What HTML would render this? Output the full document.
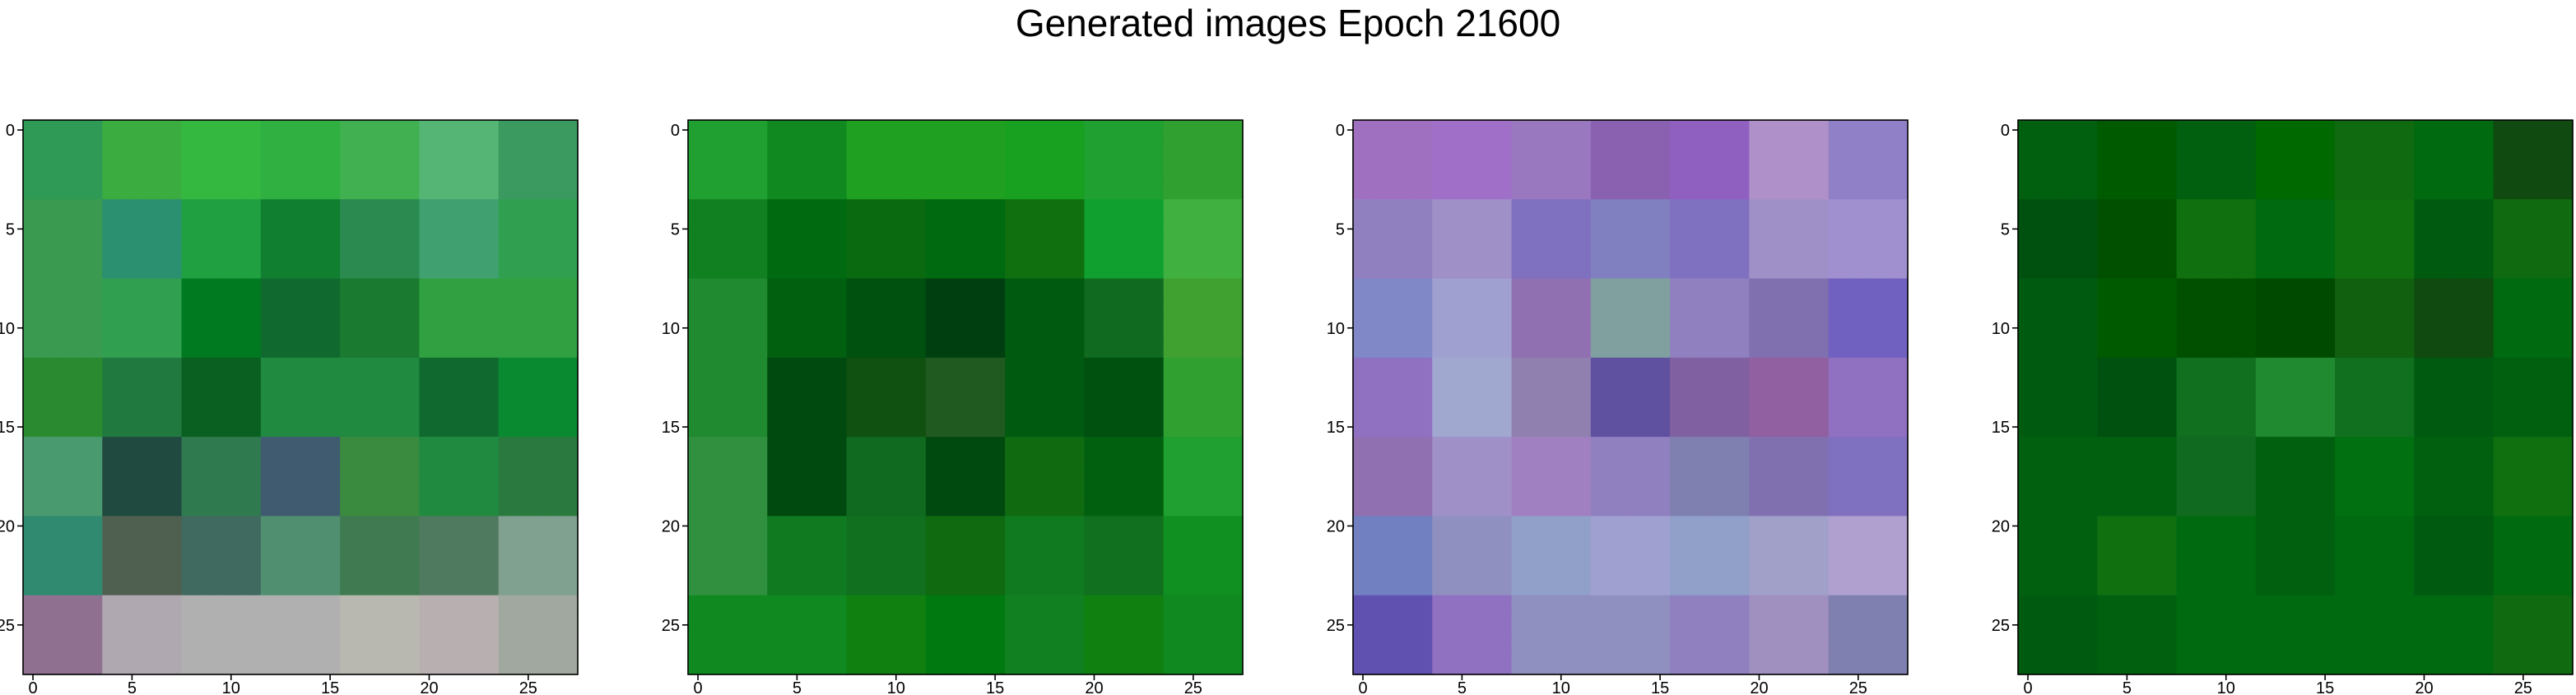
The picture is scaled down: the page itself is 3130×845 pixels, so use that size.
<!DOCTYPE html>
<html><head><meta charset="utf-8"><style>
html,body{margin:0;padding:0;background:#fff;width:3130px;height:845px;overflow:hidden}
svg{display:block}
text{font-family:"Liberation Sans","DejaVu Sans",sans-serif;fill:#000}
</style></head><body>
<svg id="fig" width="3130" height="845" viewBox="0 0 3130 845" xmlns="http://www.w3.org/2000/svg">
<text x="1565" y="44" font-size="46" text-anchor="middle">Generated images Epoch 21600</text>
</svg>
<script>
const panelLefts = [28, 836, 1644, 2452];
const tickValues = [0, 5, 10, 15, 20, 25];
const gridSize = 28;
const blockSize = 4;
const panel1 = [
["#2e9a55","#3aac40","#35b840","#30b040","#40b050","#55b575","#3a9a60"],
["#3a9a50","#2a9070","#20a040","#108030","#2a8a50","#40a070","#30a050"],
["#3a9a50","#30a050","#007a20","#106a30","#1a7a30","#30a040","#30a040"],
["#2a8a30","#207a40","#0a6020","#208a40","#208a40","#106a30","#0a8a30"],
["#4a9a70","#204a40","#307a50","#405a70","#3a8a40","#208a40","#2a7a40"],
["#308a70","#506050","#406a60","#509070","#407a50","#507a60","#80a090"],
["#907090","#b0a8b0","#b0b0b0","#b0b0b0","#b8b8b0","#b8b0b0","#a0a8a0"]];
const panel2 = [
["#20a030","#108a20","#20a020","#20a020","#18a020","#20a030","#30a030"],
["#108020","#006a10","#0a6a10","#006a10","#107010","#10a030","#40b040"],
["#208a30","#006010","#005010","#004010","#005a10","#106a20","#40a030"],
["#208a30","#004a10","#105010","#205a20","#005a10","#005010","#30a030"],
["#309040","#004a10","#106a20","#004a10","#106a10","#006010","#20a030"],
["#309040","#107a20","#107020","#106a10","#107a20","#107020","#109020"],
["#108a20","#108a20","#108010","#007a10","#108020","#108010","#108a20"]];
const panel3 = [
["#a070c0","#a070c8","#9a78c0","#8a60b0","#9060c0","#b090c8","#9080c8"],
["#9080c0","#a090c8","#8070c0","#8080c0","#8070c0","#a090c8","#a090d0"],
["#8088c8","#a0a0d0","#9070b0","#80a0a0","#9080c0","#8070b0","#7060c0"],
["#9070c0","#a0a8d0","#9080b0","#6050a0","#8060a0","#9060a0","#9070c0"],
["#9070b0","#a090c8","#a080c0","#9080c0","#8080b0","#8070b0","#8070c0"],
["#7080c0","#9090c0","#90a0c8","#a0a0d0","#90a0c8","#a0a0c8","#b0a0d0"],
["#6050b0","#9070c0","#9090c0","#9090c0","#9080c0","#a090c0","#8080b0"]];
const panel4 = [
["#006010","#005a00","#006010","#006a00","#106a10","#006a10","#104a10"],
["#005010","#005000","#107010","#006a10","#107010","#005a10","#106a10"],
["#005a10","#005a00","#005000","#004a00","#106010","#104a10","#006a10"],
["#005a10","#005010","#107020","#208a30","#107020","#005a10","#006010"],
["#006010","#006010","#106a20","#006010","#007010","#006010","#107010"],
["#006010","#107010","#006a10","#006010","#006a10","#005a10","#006a10"],
["#005a10","#006010","#006a10","#006a10","#006a10","#006a10","#106a10"]];
const panels = [panel1, panel2, panel3, panel4];

const NS = "http://www.w3.org/2000/svg";
const svg = document.getElementById('fig');
const top0 = 146, size = 674, cell = size / gridSize;
function xPos(p, v) { return panelLefts[p] + v * cell; }
function yPos(v) { return top0 + v * cell; }

panels.forEach((data, p) => {
  const g = document.createElementNS(NS, 'g');
  
  
  svg.appendChild(g);
  for (let r = 0; r < gridSize; r++) {
    for (let c = 0; c < gridSize; c++) {
      const rect = document.createElementNS(NS, 'rect');
      
      
      rect.setAttribute('x', xPos(p, c));
      rect.setAttribute('y', yPos(r));
      rect.setAttribute('width', cell + 0.6);
      rect.setAttribute('height', cell + 0.6);
      rect.setAttribute('fill', data[Math.floor(r / blockSize)][Math.floor(c / blockSize)]);
      g.appendChild(rect);
    }
  }
  const frame = document.createElementNS(NS, 'rect');
  
  
  frame.setAttribute('x', panelLefts[p]);
  frame.setAttribute('y', top0);
  frame.setAttribute('width', size);
  frame.setAttribute('height', size);
  frame.setAttribute('fill', 'none');
  frame.setAttribute('stroke', '#000');
  frame.setAttribute('stroke-width', '1.6');
  g.appendChild(frame);
  tickValues.forEach(t => {
    const cx = xPos(p, t + 0.5);
    const xt = document.createElementNS(NS, 'line');
    
    
    xt.setAttribute('x1', cx); xt.setAttribute('x2', cx);
    xt.setAttribute('y1', top0 + size); xt.setAttribute('y2', top0 + size + 7);
    xt.setAttribute('stroke', '#000'); xt.setAttribute('stroke-width', '1.6');
    g.appendChild(xt);
    const xl = document.createElementNS(NS, 'text');
    
    
    xl.setAttribute('x', cx); xl.setAttribute('y', 843);
    xl.setAttribute('font-size', '20'); xl.setAttribute('text-anchor', 'middle');
    xl.textContent = t;
    g.appendChild(xl);
    const cy = yPos(t + 0.5);
    const yt = document.createElementNS(NS, 'line');
    
    
    yt.setAttribute('x1', panelLefts[p] - 7); yt.setAttribute('x2', panelLefts[p]);
    yt.setAttribute('y1', cy); yt.setAttribute('y2', cy);
    yt.setAttribute('stroke', '#000'); yt.setAttribute('stroke-width', '1.6');
    g.appendChild(yt);
    const yl = document.createElementNS(NS, 'text');
    
    
    yl.setAttribute('x', panelLefts[p] - 10); yl.setAttribute('y', cy + 7);
    yl.setAttribute('font-size', '20'); yl.setAttribute('text-anchor', 'end');
    yl.textContent = t;
    g.appendChild(yl);
  });
});
</script>
</body></html>
